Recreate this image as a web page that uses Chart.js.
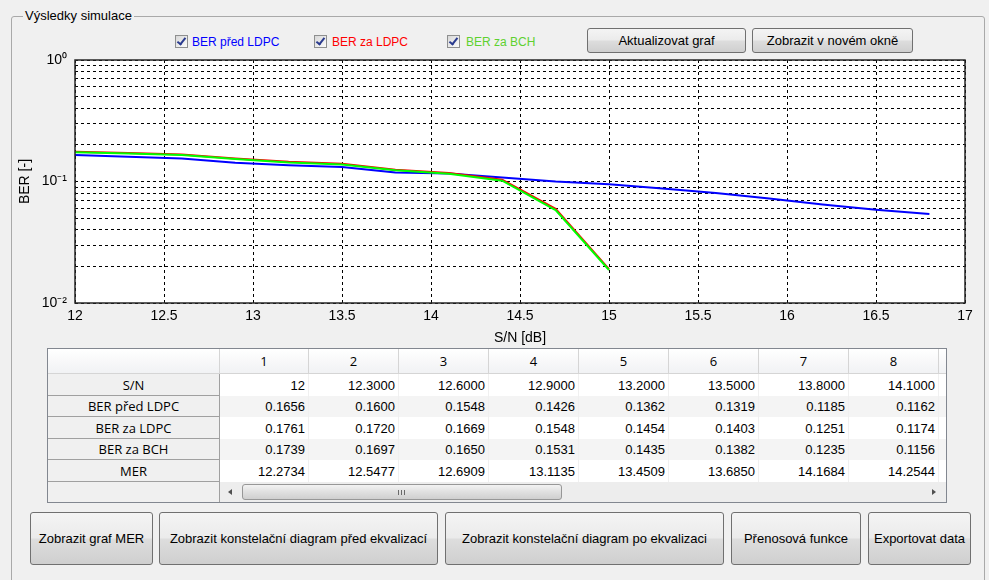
<!DOCTYPE html>
<html>
<head>
<meta charset="utf-8">
<script src="https://cdn.jsdelivr.net/npm/chart.js@4.4.1/dist/chart.umd.min.js"></script>
<style>
  html, body { margin: 0; padding: 0; }
  body {
    width: 989px; height: 580px; background: #f0f0f0; position: relative; overflow: hidden;
    font-family: "Liberation Sans", Arial, sans-serif; color: #000;
  }
  .frame { position: absolute; left: 11px; top: 16px; width: 972px; height: 600px; border: 1px solid #a9a9a9; border-radius: 3px; }
  .frame-title { position: absolute; left: 23px; top: 8px; padding: 0 2px; background: #f0f0f0; font-size: 13px; }
  .cb { position: absolute; top: 35px; width: 11px; height: 11px; border: 1px solid #8e8f8f;
        background: linear-gradient(135deg, #d8d8d8, #fbfbfb); }
  .cb::after { content: ""; position: absolute; left: 3px; top: 0px; width: 3px; height: 7px;
               border: solid #2a3b8f; border-width: 0 2px 2px 0; transform: rotate(38deg); }
  .lbl { position: absolute; top: 35px; font-size: 12px; }
  .btn { position: absolute; box-sizing: border-box; border: 1px solid #707070; border-radius: 3px;
         background: linear-gradient(#f4f4f4 0%, #ebebeb 48%, #dddddd 52%, #cfcfcf 100%);
         font-size: 13px; display: flex; align-items: center; justify-content: center; }
  #chartBox { position: absolute; left: 0; top: 40px; width: 989px; height: 310px; }
  #tbl { position: absolute; left: 47px; top: 348px; border: 1px solid #828790; border-collapse: separate;
         border-spacing: 0; table-layout: fixed; width: 898px; background: #fff; }
  #tbl td, #tbl th { padding: 0; overflow: hidden; white-space: nowrap; }
  #tbl th { font-family: "Open Sans", sans-serif; font-weight: normal; font-size: 13px; height: 24px;
            background: linear-gradient(#ffffff, #f1f2f4); border-right: 1px solid #d5d5d5; border-bottom: 1px solid #d5d5d5; }
  #tbl td.rh { font-family: "Open Sans", sans-serif; font-size: 13px; text-align: center; background: #f0f0f0;
               border-right: 1px solid #a0a0a0; border-bottom: 1px solid #a0a0a0; }
  #tbl td.v { font-size: 13px; text-align: right; padding-right: 3px; border-right: 1px solid #f0f0f0; }
  #tbl tr.alt td.v { background: #f4f4f4; }
  .sb { position: relative; height: 19px; background: #ededed; }
  .arrL { position: absolute; left: 8px; top: 6px; width: 0; height: 0; border-top: 3px solid transparent;
          border-bottom: 3px solid transparent; border-right: 4px solid #505050; }
  .arrR { position: absolute; right: 10px; top: 6px; width: 0; height: 0; border-top: 3px solid transparent;
          border-bottom: 3px solid transparent; border-left: 4px solid #505050; }
  .thumb { position: absolute; left: 22px; top: 1px; width: 320px; height: 16px; box-sizing: border-box;
           border: 1px solid #979797; border-radius: 3px; background: linear-gradient(#f2f2f2, #e0e0e0 50%, #cfcfcf); }
  .grip { position: absolute; left: 155px; top: 5px; width: 7px; height: 5px;
          background: repeating-linear-gradient(90deg, #6a6a6a 0 1px, transparent 1px 3px); }
</style>
</head>
<body>
<div class="frame"></div>
<div class="frame-title">Výsledky simulace</div>

<div class="cb" style="left:175px"></div><div class="lbl" style="left:192px;color:#0000ff">BER před LDPC</div>
<div class="cb" style="left:314px"></div><div class="lbl" style="left:332px;color:#ff0000">BER za LDPC</div>
<div class="cb" style="left:447px"></div><div class="lbl" style="left:466px;color:#5ed12f">BER za BCH</div>

<div class="btn" style="left:587px;top:28px;width:159px;height:25px">Aktualizovat graf</div>
<div class="btn" style="left:752px;top:28px;width:161px;height:25px">Zobrazit v novém okně</div>

<div id="chartBox"><canvas id="berChart" width="989" height="310"></canvas></div>

<table id="tbl"></table>

<div class="btn" style="left:30px;top:512px;width:123px;height:53px">Zobrazit graf MER</div>
<div class="btn" style="left:159px;top:512px;width:279px;height:53px">Zobrazit konstelační diagram před ekvalizací</div>
<div class="btn" style="left:445px;top:512px;width:279px;height:53px">Zobrazit konstelační diagram po ekvalizaci</div>
<div class="btn" style="left:731px;top:512px;width:130px;height:53px">Přenosová funkce</div>
<div class="btn" style="left:868px;top:512px;width:103px;height:53px">Exportovat data</div>

<script>
// S/N [dB] points of the simulation
const snr = [12, 12.3, 12.6, 12.9, 13.2, 13.5, 13.8, 14.1, 14.4, 14.7, 15.0, 15.3, 15.6, 15.9, 16.2, 16.5, 16.8];
const berPredLdpc = [0.1656, 0.1600, 0.1548, 0.1426, 0.1362, 0.1319, 0.1185, 0.1162, 0.108, 0.100, 0.0948,
                     0.0875, 0.0805, 0.0725, 0.0648, 0.0585, 0.054];
const berZaLdpc = [0.1761, 0.1720, 0.1669, 0.1548, 0.1454, 0.1403, 0.1251, 0.1174, 0.1035, 0.0595, 0.0190];
const berZaBch = [0.1739, 0.1697, 0.1650, 0.1531, 0.1435, 0.1382, 0.1235, 0.1156, 0.1015, 0.0582, 0.0187];
const mer = [12.2734, 12.5477, 12.6909, 13.1135, 13.4509, 13.6850, 14.1684, 14.2544];

const xTicks = [12, 12.5, 13, 13.5, 14, 14.5, 15, 15.5, 16, 16.5, 17];
const yGrid = [0.01, 0.02, 0.03, 0.04, 0.05, 0.06, 0.07, 0.08, 0.09,
               0.1, 0.2, 0.3, 0.4, 0.5, 0.6, 0.7, 0.8, 0.9, 1];
const yTickLabels = { '0.01': '10⁻²', '0.1': '10⁻¹', '1': '10⁰' };

const tableRows = ['S/N', 'BER před LDPC', 'BER za LDPC', 'BER za BCH', 'MER'];
const visibleCols = 8;

// white axes box like matlab
const axesBox = {
  id: 'axesBox',
  beforeDraw(chart) {
    const { ctx, chartArea: a } = chart;
    ctx.save();
    ctx.fillStyle = '#fff';
    ctx.fillRect(a.left, a.top, a.right - a.left, a.bottom - a.top);
    ctx.restore();
  },
  afterDraw(chart) {
    const { ctx, chartArea: a } = chart;
    ctx.save();
    ctx.strokeStyle = '#262626';
    ctx.lineWidth = 1.5;
    ctx.strokeRect(a.left, a.top, a.right - a.left, a.bottom - a.top);
    ctx.restore();
  }
};

const pts = (arr) => arr.map((y, i) => ({ x: snr[i], y }));
const font = { family: 'Liberation Sans', size: 14 };

new Chart(document.getElementById('berChart'), {
  type: 'line',
  data: {
    datasets: [
      { label: 'BER před LDPC', data: pts(berPredLdpc), borderColor: '#0000ff', order: 3 },
      { label: 'BER za LDPC', data: pts(berZaLdpc), borderColor: '#ff0000', order: 2 },
      { label: 'BER za BCH', data: pts(berZaBch), borderColor: '#00ff00', order: 1 }
    ]
  },
  options: {
    responsive: false,
    animation: false,
    layout: { padding: { top: 20, right: 24, left: 0, bottom: 0 } },
    elements: {
      line: { borderWidth: 2, tension: 0 },
      point: { radius: 0 }
    },
    plugins: { legend: { display: false }, tooltip: { enabled: false } },
    scales: {
      x: {
        type: 'linear',
        min: 12,
        max: 17,
        afterBuildTicks: s => { s.ticks = xTicks.map(v => ({ value: v })); },
        afterFit: s => { s.height = 47; },
        ticks: { autoSkip: false, maxRotation: 0, padding: 5, color: '#000', font, callback: v => String(v) },
        grid: { color: '#000', drawTicks: false },
        border: { display: false, dash: [3, 3] },
        title: { display: true, text: 'S/N [dB]', color: '#000', font, padding: { top: 0, bottom: 3 } }
      },
      y: {
        type: 'logarithmic',
        min: 0.01,
        max: 1,
        afterBuildTicks: s => { s.ticks = yGrid.map(v => ({ value: v })); },
        afterFit: s => { s.width = 75; },
        ticks: {
          autoSkip: false, padding: 8, color: '#000', font,
          callback: v => yTickLabels[String(+v.toPrecision(3))] || ''
        },
        grid: { color: '#000', drawTicks: false },
        border: { display: false, dash: [3, 3] },
        title: { display: true, text: 'BER [-]', color: '#000', font, padding: { top: 17, bottom: 0 } }
      }
    }
  },
  plugins: [axesBox]
});

// data table under the plot
const fmt = v => Number.isInteger(v) ? String(v) : v.toFixed(4);
const rowData = [snr, berPredLdpc, berZaLdpc, berZaBch, mer];
const tbl = document.getElementById('tbl');
let html = '<colgroup><col style="width:172px"><col style="width:89px">';
for (let c = 1; c < visibleCols; c++) html += '<col style="width:90px">';
html += '<col style="width:7px"></colgroup><tr><th></th>';
for (let c = 0; c < visibleCols; c++) html += '<th>' + (c + 1) + '</th>';
html += '<th style="border-right:none"></th></tr>';
tableRows.forEach((name, r) => {
  html += '<tr class="' + (r % 2 ? 'alt' : '') + '" style="height:' + (r % 2 ? 21 : 22) + 'px"><td class="rh">' + name + '</td>';
  for (let c = 0; c < visibleCols; c++) html += '<td class="v">' + fmt(rowData[r][c]) + '</td>';
  html += '<td class="v" style="border-right:none"></td></tr>';
});
html += '<tr style="height:20px"><td class="rh" style="border-bottom:none"></td><td colspan="9" style="background:#ededed">' +
        '<div class="sb"><div class="arrL"></div><div class="thumb"><div class="grip"></div></div><div class="arrR"></div></div></td></tr>';
tbl.innerHTML = html;
</script>
</body>
</html>
